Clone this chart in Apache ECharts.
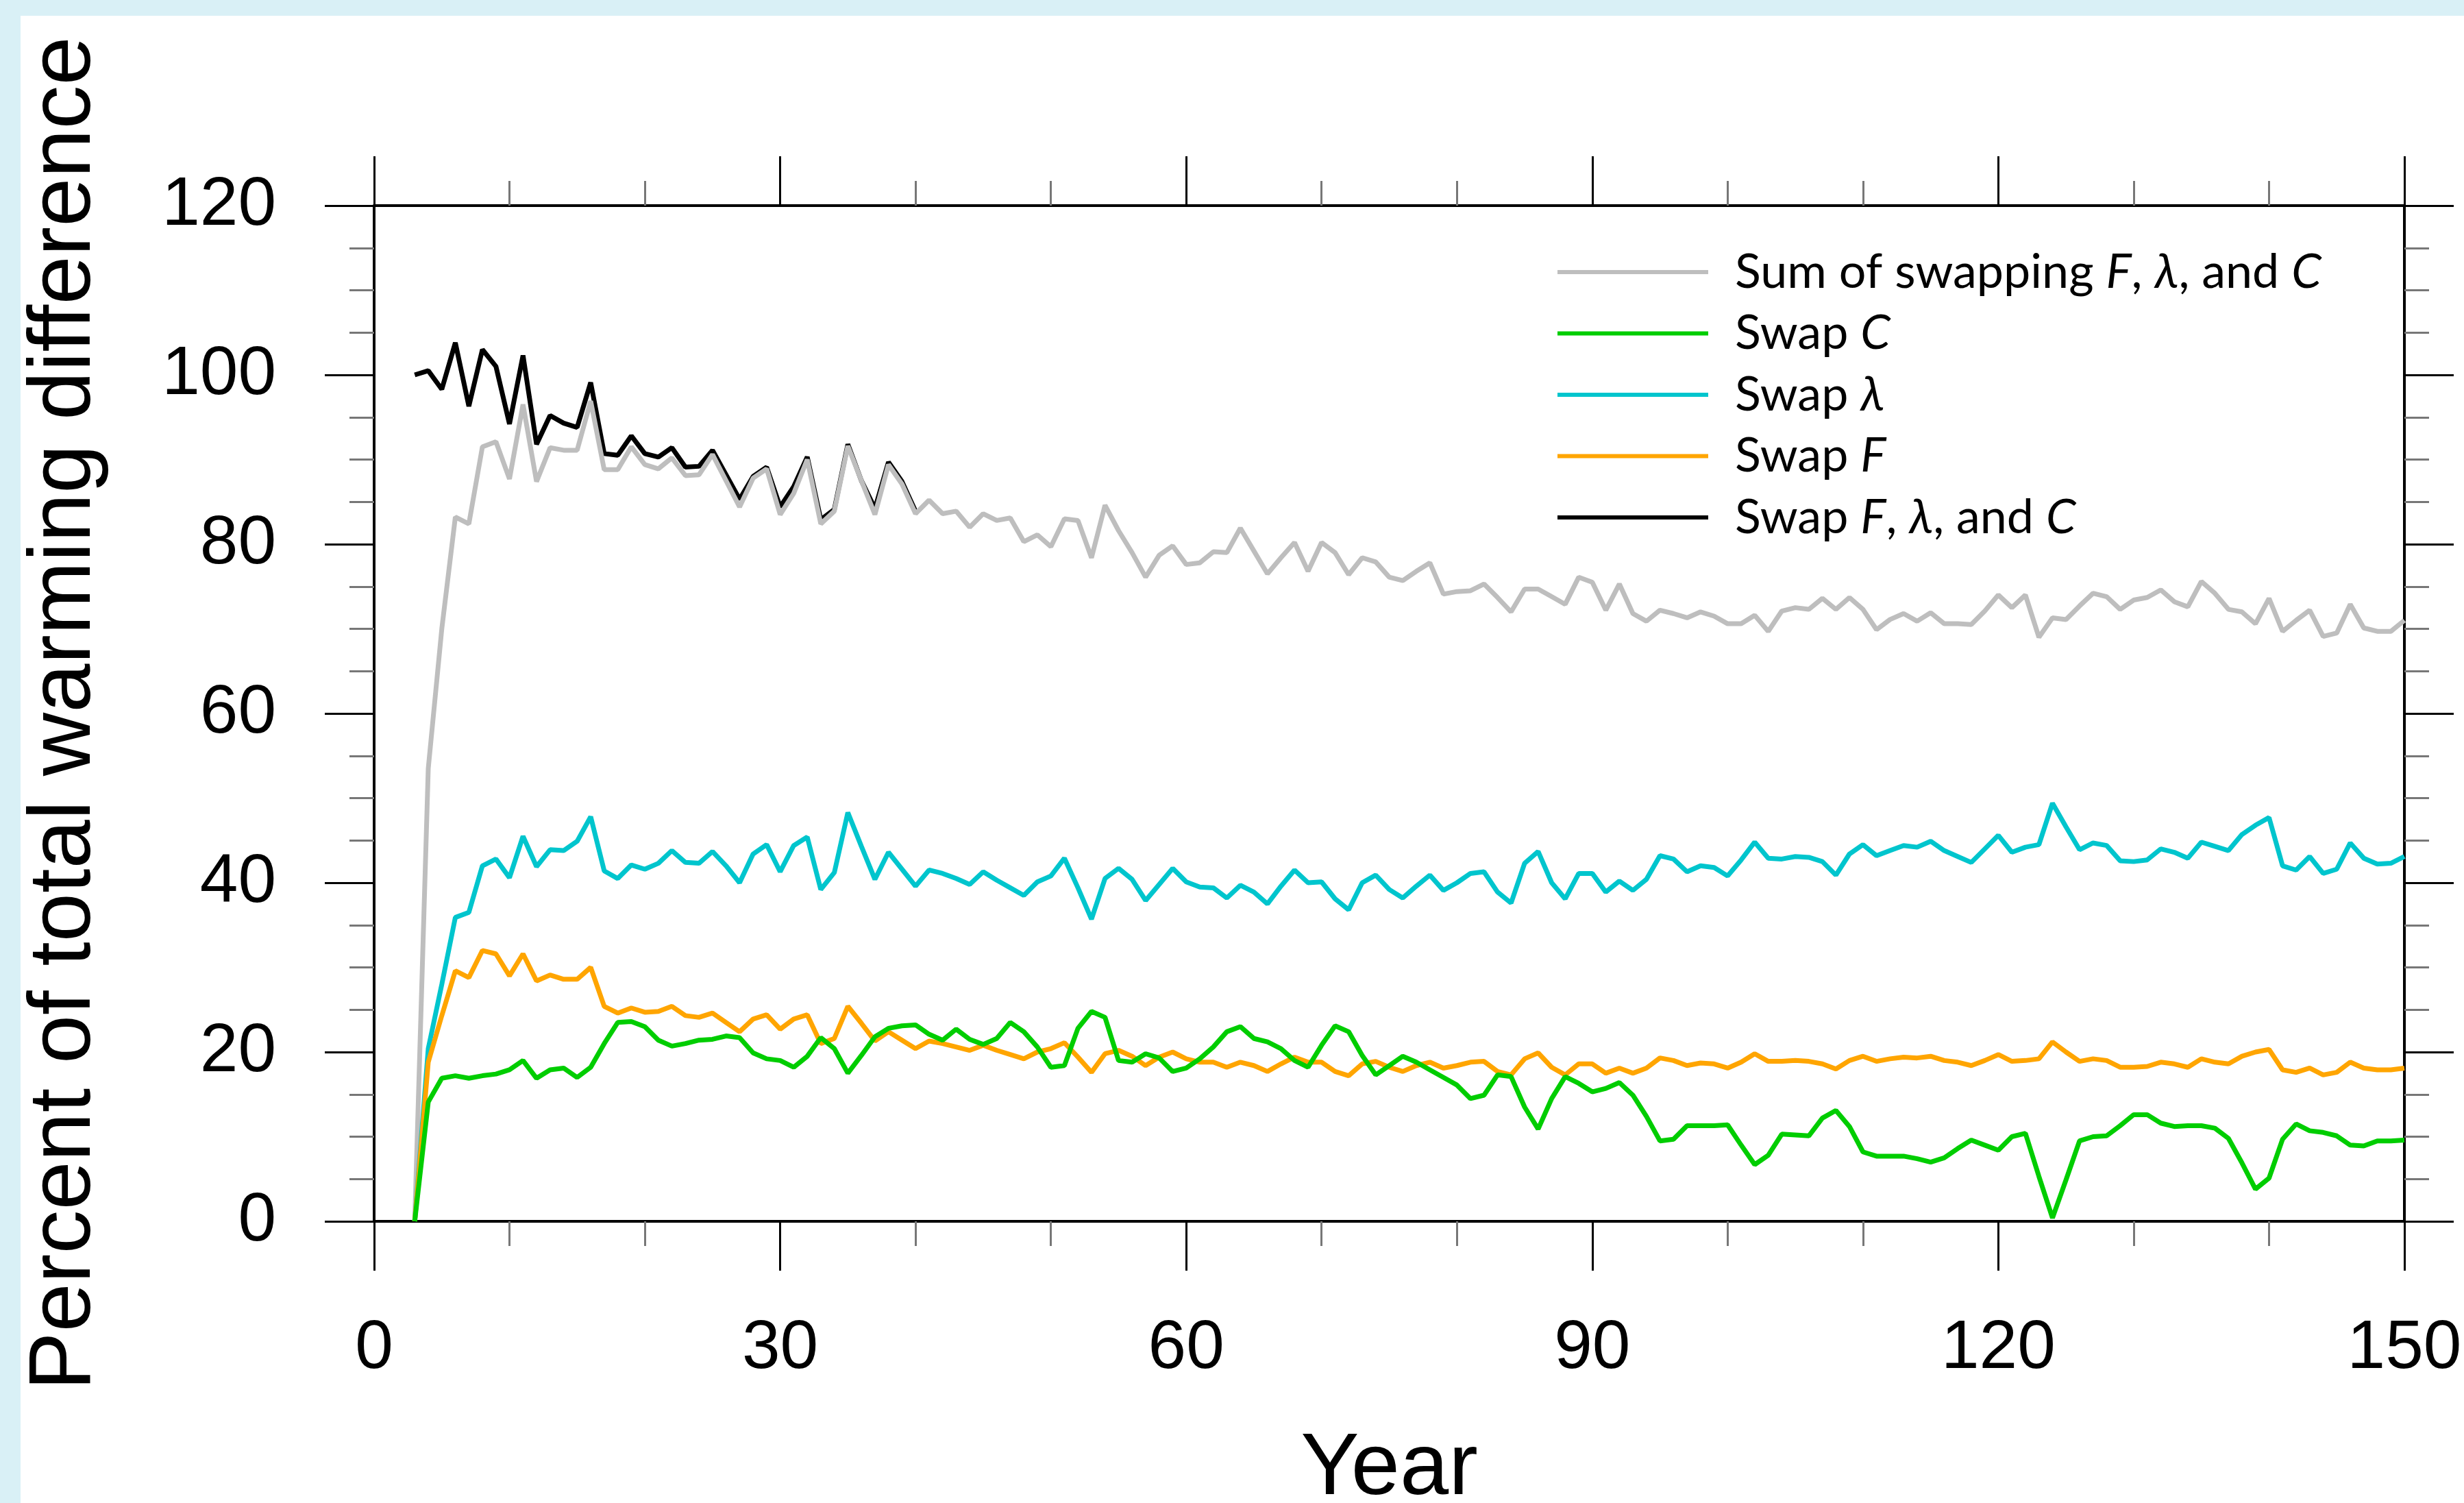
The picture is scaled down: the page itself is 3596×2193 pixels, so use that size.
<!DOCTYPE html>
<html>
<head>
<meta charset="utf-8">
<script src="https://cdn.jsdelivr.net/npm/echarts@6/dist/echarts.min.js"></script>
<style>
    html, body { margin: 0; padding: 0; background: #d9f0f6; width: 3596px; height: 2193px; overflow: hidden; }
    #chart { position: absolute; left: 30px; top: 23px; width: 3566px; height: 2170px; background: #fff; }
</style>
</head>
<body>
<div id="chart"></div>
<script>
// years start at 3, one value per year up to 150
const firstYear = 3;

const xTicks = [0, 30, 60, 90, 120, 150];
const yTicks = [0, 20, 40, 60, 80, 100, 120];

const sumSwap = [
    0, 53.5, 70.0, 83.2, 82.4, 91.5, 92.1, 87.7,
    96.5, 87.4, 91.4, 91.1, 91.1, 96.9, 88.8, 88.8, 91.5, 89.4,
    88.9, 90.2, 88.1, 88.2, 90.6, 87.5, 84.4, 87.8, 88.9, 83.5,
    86.0, 90.0, 82.4, 83.9, 91.6, 87.5, 83.5, 89.4, 87.1, 83.6,
    85.2, 83.6, 83.9, 82.0, 83.6, 82.8, 83.1, 80.3, 81.1, 79.7,
    83.0, 82.8, 78.4, 84.6, 81.6, 79.0, 76.1, 78.7, 79.8, 77.6,
    77.8, 79.1, 79.0, 81.9, 79.2, 76.5, 78.4, 80.2, 76.8, 80.2,
    79.0, 76.4, 78.4, 77.9, 76.1, 75.7, 76.8, 77.8, 74.1, 74.4,
    74.5, 75.3, 73.7, 72.0, 74.7, 74.7, 73.8, 72.9, 76.1, 75.5,
    72.2, 75.3, 71.8, 70.9, 72.2, 71.8, 71.3, 72.0, 71.5, 70.6,
    70.6, 71.6, 69.7, 72.1, 72.5, 72.3, 73.6, 72.3, 73.7, 72.3,
    69.9, 71.1, 71.8, 70.9, 71.9, 70.6, 70.6, 70.5, 72.1, 74.0,
    72.5, 74.0, 69.0, 71.3, 71.1, 72.7, 74.2, 73.8, 72.3, 73.4,
    73.7, 74.6, 73.2, 72.6, 75.6, 74.2, 72.3, 72.0, 70.6, 73.6,
    69.7, 71.0, 72.2, 69.1, 69.5, 72.9, 70.1, 69.7, 69.7, 71.0
];

const swapC = [
    0, 14.1, 16.9, 17.2, 16.9, 17.2, 17.4, 17.9,
    19.0, 16.9, 17.9, 18.1, 17.0, 18.2, 21.0, 23.5, 23.6, 23.0,
    21.4, 20.7, 21.0, 21.4, 21.5, 21.9, 21.7, 19.9, 19.2, 19.0,
    18.2, 19.5, 21.7, 20.4, 17.5, 19.6, 21.8, 22.8, 23.1, 23.2,
    22.1, 21.4, 22.7, 21.5, 20.9, 21.6, 23.5, 22.4, 20.6, 18.2,
    18.4, 22.8, 24.8, 24.1, 19.0, 18.8, 19.8, 19.3, 17.7, 18.1,
    19.2, 20.6, 22.4, 23.0, 21.6, 21.2, 20.4, 19.0, 18.2, 20.8,
    23.1, 22.4, 19.6, 17.3, 18.4, 19.5, 18.8, 17.9, 17.0, 16.1,
    14.5, 14.9, 17.3, 17.1, 13.5, 10.9, 14.5, 17.1, 16.3, 15.3,
    15.7, 16.4, 14.9, 12.4, 9.5, 9.7, 11.3, 11.3, 11.3, 11.4,
    9.0, 6.7, 7.8, 10.3, 10.2, 10.1, 12.2, 13.1, 11.2, 8.2,
    7.7, 7.7, 7.7, 7.4, 7.0, 7.5, 8.6, 9.6, 9.0, 8.4,
    10.0, 10.4, 5.3, 0.4, 4.9, 9.5, 10.0, 10.1, 11.3, 12.6,
    12.6, 11.6, 11.2, 11.3, 11.3, 11.0, 9.8, 6.9, 3.8, 5.1,
    9.7, 11.5, 10.7, 10.5, 10.1, 9.0, 8.9, 9.5, 9.5, 9.6
];

const swapLambda = [
    0, 20.4, 28.0, 35.9, 36.5, 42.0, 42.8, 40.6,
    45.5, 41.9, 43.9, 43.8, 44.9, 47.8, 41.4, 40.5, 42.1, 41.6,
    42.3, 43.8, 42.4, 42.3, 43.7, 42.0, 40.0, 43.4, 44.5, 41.3,
    44.4, 45.4, 39.2, 41.2, 48.3, 44.3, 40.4, 43.6, 41.6, 39.6,
    41.5, 41.1, 40.5, 39.8, 41.3, 40.3, 39.4, 38.5, 40.1, 40.8,
    42.9, 39.4, 35.7, 40.5, 41.7, 40.4, 37.9, 39.8, 41.7, 40.1,
    39.5, 39.4, 38.2, 39.7, 38.9, 37.5, 39.6, 41.5, 40.0, 40.1,
    38.1, 36.8, 40.0, 40.9, 39.2, 38.2, 39.6, 40.9, 39.1, 40.0,
    41.1, 41.3, 38.9, 37.6, 42.3, 43.7, 40.0, 38.1, 41.1, 41.1,
    38.9, 40.2, 39.1, 40.4, 43.2, 42.8, 41.3, 42.0, 41.8, 40.8,
    42.7, 44.8, 42.9, 42.8, 43.1, 43.0, 42.5, 40.9, 43.4, 44.5,
    43.2, 43.8, 44.4, 44.2, 44.9, 43.8, 43.1, 42.4, 44.0, 45.6,
    43.6, 44.2, 44.5, 49.4, 46.6, 43.9, 44.7, 44.4, 42.6, 42.5,
    42.7, 44.0, 43.6, 42.9, 44.8, 44.3, 43.8, 45.7, 46.8, 47.7,
    42.0, 41.5, 43.1, 41.1, 41.6, 44.7, 42.9, 42.2, 42.3, 43.1
];

const swapF = [
    0, 18.8, 24.3, 29.6, 28.8, 32.0, 31.6, 29.0,
    31.6, 28.4, 29.1, 28.6, 28.6, 30.0, 25.4, 24.6, 25.2, 24.7,
    24.8, 25.4, 24.3, 24.1, 24.6, 23.5, 22.4, 23.9, 24.4, 22.7,
    23.9, 24.4, 21.0, 21.6, 25.4, 23.4, 21.3, 22.4, 21.4, 20.4,
    21.3, 21.0, 20.6, 20.2, 20.8, 20.2, 19.7, 19.2, 20.0, 20.4,
    21.1, 19.4, 17.6, 19.8, 20.2, 19.5, 18.4, 19.4, 20.0, 19.2,
    18.8, 18.8, 18.2, 18.8, 18.4, 17.7, 18.6, 19.4, 18.8, 18.8,
    17.7, 17.2, 18.6, 18.9, 18.2, 17.7, 18.4, 18.8, 18.1, 18.4,
    18.8, 18.9, 17.7, 17.3, 19.2, 19.9, 18.2, 17.3, 18.6, 18.6,
    17.5, 18.1, 17.5, 18.1, 19.3, 19.0, 18.4, 18.7, 18.6, 18.1,
    18.8, 19.8, 18.9, 18.9, 19.0, 18.9, 18.6, 18.0, 19.0, 19.5,
    18.9, 19.2, 19.4, 19.3, 19.5, 19.0, 18.8, 18.4, 19.0, 19.7,
    18.9, 19.0, 19.2, 21.2, 20.0, 18.9, 19.2, 19.0, 18.2, 18.2,
    18.3, 18.8, 18.6, 18.2, 19.2, 18.8, 18.6, 19.5, 20.0, 20.3,
    17.9, 17.6, 18.1, 17.3, 17.6, 18.8, 18.1, 17.9, 17.9, 18.1
];

// only the early years where it separates from the sum
const swapAll = [
    100.0, 100.5, 98.3, 103.8, 96.3, 103.0, 101.0, 94.2,
    102.3, 91.8, 95.2, 94.3, 93.8, 99.1, 90.7, 90.5, 92.8, 90.7,
    90.3, 91.4, 89.1, 89.2, 91.1, 88.2, 85.3, 88.0, 89.1, 84.4,
    86.8, 90.3, 82.9, 84.1, 91.8, 87.5, 84.2, 89.7, 87.4, 83.9
];

const names = {
    sum: 'Sum of swapping F, λ, and C',
    c: 'Swap C',
    lambda: 'Swap λ',
    f: 'Swap F',
    all: 'Swap F, λ, and C'
};

const legendText = {};
legendText[names.sum] = '{n|Sum of swapping }{i|F}{n|, }{i|λ}{n|, and }{i|C}';
legendText[names.c] = '{n|Swap }{i|C}';
legendText[names.lambda] = '{n|Swap }{i|λ}';
legendText[names.f] = '{n|Swap }{i|F}';
legendText[names.all] = '{n|Swap }{i|F}{n|, }{i|λ}{n|, and }{i|C}';

function toPairs(values){
    return values.map((v, i) => [firstYear + i, v]);
}

function lineSeries(name, values, color){
    return {
        name: name,
        type: 'line',
        data: toPairs(values),
        color: color,
        symbol: 'none',
        showSymbol: false,
        lineStyle: {color: color, width: 7},
        emphasis: {disabled: true},
        silent: true
    };
}

const labelFont = 'Liberation Sans, Arial, sans-serif';
const legendFont = 'Lato, Noto Sans, sans-serif';

function makeXAxis(position, showLabel){
    return {
        type: 'value',
        position: position,
        min: xTicks[0],
        max: xTicks[xTicks.length - 1],
        interval: xTicks[1] - xTicks[0],
        axisLine: {show: true, onZero: false, lineStyle: {color: '#000', width: 4}},
        axisTick: {show: true, inside: false, length: 72, lineStyle: {color: '#000', width: 3}},
        minorTick: {show: true, splitNumber: 3, length: 36, lineStyle: {color: '#777', width: 3}},
        splitLine: {show: false},
        minorSplitLine: {show: false},
        axisLabel: {
            show: showLabel,
            fontSize: 100,
            fontFamily: labelFont,
            color: '#000',
            margin: 136
        },
        name: showLabel ? 'Year' : '',
        nameLocation: 'middle',
        nameGap: 299,
        nameTextStyle: {fontSize: 128, fontFamily: labelFont, color: '#000'}
    };
}

function makeYAxis(position, showLabel){
    return {
        type: 'value',
        position: position,
        min: yTicks[0],
        max: yTicks[yTicks.length - 1],
        interval: yTicks[1] - yTicks[0],
        axisLine: {show: true, onZero: false, lineStyle: {color: '#000', width: 4}},
        axisTick: {show: true, inside: false, length: 72, lineStyle: {color: '#000', width: 3}},
        minorTick: {show: true, splitNumber: 4, length: 36, lineStyle: {color: '#777', width: 3}},
        splitLine: {show: false},
        minorSplitLine: {show: false},
        axisLabel: {
            show: showLabel,
            fontSize: 100,
            fontFamily: labelFont,
            color: '#000',
            margin: 143
        },
        name: showLabel ? 'Percent of total warming difference' : '',
        nameLocation: 'middle',
        nameGap: 386,
        nameTextStyle: {fontSize: 128, fontFamily: labelFont, color: '#000'}
    };
}

const chart = echarts.init(document.getElementById('chart'), null, {renderer: 'canvas'});

const option = {
    animation: false,
    backgroundColor: '#fff',
    grid: {left: 516, right: 87, top: 277, bottom: 411, containLabel: false, outerBoundsMode: 'none'},
    legend: {
        data: [names.sum, names.c, names.lambda, names.f, names.all],
        orient: 'vertical',
        left: 2238,
        top: 334,
        icon: 'rect',
        itemWidth: 220,
        itemHeight: 6,
        itemGap: 19.5,
        selectedMode: false,
        formatter: name => legendText[name],
        textStyle: {
            padding: [0, 0, 0, 34],
            rich: {
                n: {fontFamily: legendFont, fontSize: 70, color: '#000'},
                i: {fontFamily: legendFont, fontSize: 70, fontStyle: 'italic', color: '#000'}
            }
        }
    },
    xAxis: [makeXAxis('bottom', true), makeXAxis('top', false)],
    yAxis: [makeYAxis('left', true), makeYAxis('right', false)],
    series: [
        lineSeries(names.all, swapAll, '#000000'),
        lineSeries(names.sum, sumSwap, '#bebebe'),
        lineSeries(names.lambda, swapLambda, '#00c5cd'),
        lineSeries(names.f, swapF, '#ffa500'),
        lineSeries(names.c, swapC, '#00cd00')
    ]
};

chart.setOption(option);
</script>
</body>
</html>
